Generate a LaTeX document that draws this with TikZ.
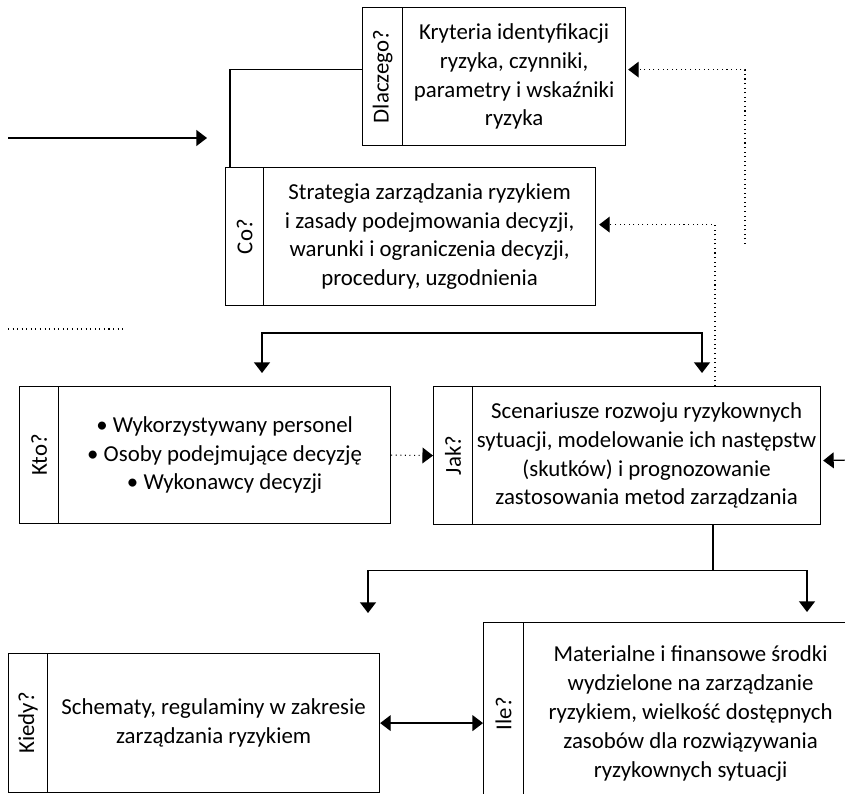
\documentclass[tikz,border=0pt]{standalone}
\usepackage{fontspec}
\setmainfont{Carlito}
\usetikzlibrary{arrows.meta,calc}
\tikzset{
  box/.style={draw, line width=0.7pt, align=center, inner sep=0pt, anchor=north west, minimum width=6.64cm, minimum height=2.76cm},
  tagbox/.style={draw, line width=0.7pt, inner sep=0pt, anchor=north west, minimum width=0.78cm, minimum height=2.76cm},
  link/.style={line width=0.7pt},
  arr/.style={link, -{Triangle[length=6pt,width=9pt]}},
  both/.style={link, {Triangle[length=6pt,width=9pt]}-{Triangle[length=6pt,width=9pt]}},
  dotarr/.style={line width=0.6pt, dotted, -{Triangle[length=6pt,width=9pt]}},
}
\begin{document}
\begin{tikzpicture}[x=0.02cm, y=-0.02cm, font=\fontsize{13pt}{16.4pt}\selectfont]
  \useasboundingbox (0,0) rectangle (845,794);
  \clip (0,0) rectangle (845,794);
  \node[tagbox, minimum width=0.8cm] (dlatag) at (362,7) {\rotatebox{90}{Dlaczego?}};
  \node[box, minimum width=4.46cm] (dlabody) at (402,7) {Kryteria identyfikacji\\ryzyka, czynniki,\\parametry i wskaźniki\\ryzyka};
  \node[tagbox, minimum width=0.76cm] (cotag) at (225,167) {\rotatebox{90}{Co?}};
  \node[box] (cobody) at (263,167) {Strategia zarządzania ryzykiem\\i zasady podejmowania decyzji,\\warunki i ograniczenia decyzji,\\procedury, uzgodnienia};
  \node[tagbox, minimum height=2.74cm] (ktotag) at (19,386) {\rotatebox{90}{Kto?}};
  \node[box, minimum height=2.74cm] (ktobody) at (58,386) {• Wykorzystywany personel\\• Osoby podejmujące decyzję\\• Wykonawcy decyzji};
  \node[tagbox] (jaktag) at (433,386) {\rotatebox{90}{Jak?}};
  \node[box, minimum width=6.96cm] (jakbody) at (472,386) {Scenariusze rozwoju ryzykownych\\sytuacji, modelowanie ich następstw\\(skutków) i prognozowanie\\zastosowania metod zarządzania};
  \node[tagbox, minimum height=2.78cm] (kiedytag) at (8,653) {\rotatebox{90}{Kiedy?}};
  \node[box, minimum height=2.78cm] (kiedybody) at (47,653) {Schematy, regulaminy w zakresie\\zarządzania ryzykiem};
  \node[tagbox, minimum width=0.8cm, minimum height=3.64cm] (iletag) at (483,622) {\rotatebox{90}{Ile?}};
  \node[box, minimum width=6.68cm, minimum height=3.64cm] (ilebody) at (523,622) {Materialne i finansowe środki\\wydzielone na zarządzanie\\ryzykiem, wielkość dostępnych\\zasobów dla rozwiązywania\\ryzykownych sytuacji};

  \coordinate (inL) at (8,138);
  \coordinate (inR) at (207,138);
  \coordinate (dotL) at (8,329);
  \coordinate (dotR) at (125,329);
  \coordinate (back) at (745,244);
  \coordinate (jakR) at (850,460);
  \coordinate (ktoin) at ($(ktobody.north west)+(204,-13)$);
  \coordinate (jakin) at ($(jakbody.north west)+(230,-13)$);
  \coordinate (jakout) at ($(jakbody.south west)+(241,0)$);
  \coordinate (kiedyin) at ($(kiedybody.north west)+(321,-40)$);
  \coordinate (ilein) at ($(ilebody.north west)+(284,-10)$);

  \draw[arr] (inL) -- (inR);
  \draw[line width=0.6pt, dotted] (dotL) -- (dotR);
  \draw[link] ($(dlatag.west)+(0,-7)$) -| ($(cotag.north west)+(5,0)$);
  \draw[dotarr] (back) |- ($(dlabody.east)+(2,-7)$);
  \draw[dotarr] ($(jakbody.north west)+(243,0)$) |- ($(cobody.east)+(3,-12)$);
  \draw[both] (ktoin) -- ++(0,-40) -| (jakin);
  \draw[dotarr] (ktobody.east) -- (jaktag.west);
  \draw[arr] (jakR) -- ($(jakbody.east)+(2,5)$);
  \draw[link] (jakout) -- ++(0,45) coordinate (fork);
  \draw[both] (kiedyin) |- (fork) -| (ilein);
  \draw[both] (kiedybody.east) -- (kiedybody.east -| iletag.west);
\end{tikzpicture}
\end{document}
